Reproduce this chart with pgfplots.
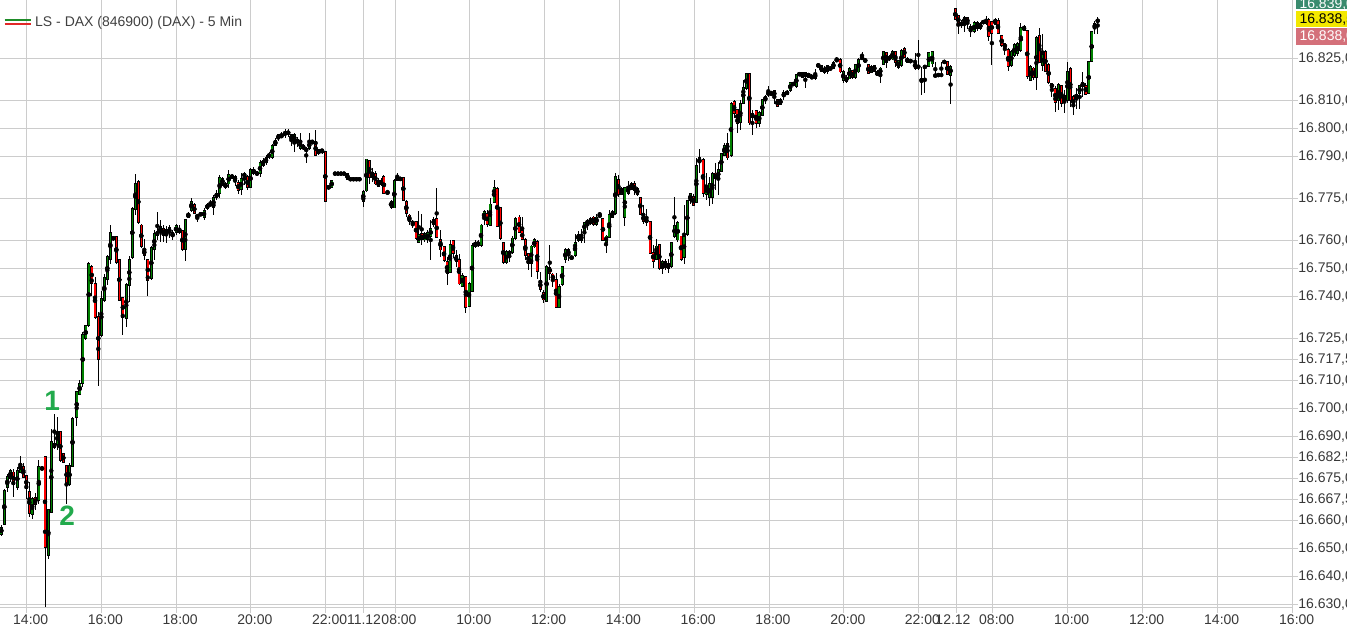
\documentclass[border=0pt]{standalone}
\usepackage{pgfplots}
\pgfplotsset{compat=1.18}
\usepackage{pgfplotstable}
\usepackage{fontspec}
\setmainfont{Liberation Sans}
\definecolor{cgreen}{RGB}{0,128,0}
\definecolor{cred}{RGB}{255,0,0}
\definecolor{cdoji}{RGB}{170,20,20}
\definecolor{gridc}{RGB}{204,204,204}
\definecolor{boxg}{RGB}{58,139,110}
\definecolor{boxy}{RGB}{243,232,0}
\definecolor{boxr}{RGB}{212,112,122}
\definecolor{annot}{RGB}{34,170,76}
\definecolor{lgreen}{RGB}{30,140,40}
\definecolor{lred}{RGB}{225,40,40}
\pgfplotstableread{
x o h l c
1.3 16655.3 16658.3 16654.5 16657.5
4.3 16658.9 16671.4 16658.7 16670.8
7.3 16672.0 16676.5 16670.2 16675.5
10.3 16675.3 16678.5 16673.8 16677.9
13.3 16677.3 16678.2 16668.4 16673.2
17.3 16672.0 16679.1 16670.8 16677.9
20.3 16677.3 16682.9 16676.8 16680.3
23.3 16679.1 16680.4 16675.1 16675.5
26.3 16675.8 16676.2 16667.8 16671.4
29.3 16670.2 16673.8 16661.3 16662.7
32.2 16662.5 16668.4 16660.7 16667.8
35.2 16668.2 16669.7 16663.7 16666.0
38.8 16667.2 16681.5 16666.0 16679.1
42.0 16678.9 16679.4 16678.0 16678.2
45.0 16682.7 16682.9 16629.1 16650.5
48.3 16647.6 16664.0 16646.4 16663.7
51.3 16663.0 16692.5 16663.0 16688.0
54.3 16687.5 16697.9 16685.7 16686.0
57.3 16687.2 16697.0 16685.1 16691.6
60.3 16691.6 16692.2 16680.9 16681.5
63.3 16683.9 16684.0 16680.8 16680.9
66.5 16679.7 16679.7 16666.0 16673.2
69.5 16673.2 16680.4 16672.2 16679.7
72.5 16679.4 16697.0 16679.1 16696.4
76.7 16697.0 16706.5 16694.0 16705.9
79.7 16705.3 16710.1 16704.7 16708.9
82.7 16708.9 16727.3 16707.7 16726.2
85.7 16725.0 16729.7 16724.4 16729.4
88.7 16729.7 16752.3 16729.1 16751.5
91.7 16750.5 16751.2 16740.1 16744.8
95.0 16744.4 16747.2 16732.1 16732.5
98.3 16732.7 16734.5 16707.9 16717.5
101.3 16726.2 16742.2 16725.5 16739.3
104.3 16738.7 16748.2 16738.0 16746.4
107.3 16746.0 16754.7 16744.0 16754.1
110.3 16753.5 16765.4 16751.5 16762.7
113.3 16761.0 16761.5 16760.1 16760.5
116.3 16761.3 16761.5 16751.5 16752.3
119.3 16753.2 16753.4 16738.7 16738.9
122.8 16739.3 16739.7 16726.2 16732.7
126.3 16732.1 16744.7 16729.1 16744.0
129.3 16744.0 16754.7 16738.0 16753.2
132.3 16754.1 16772.0 16753.5 16771.4
135.3 16771.1 16783.7 16769.0 16780.3
138.3 16780.9 16781.8 16766.0 16766.6
141.3 16765.4 16766.0 16757.5 16757.9
144.3 16756.8 16760.4 16752.9 16754.7
147.8 16753.2 16753.5 16740.1 16745.8
151.3 16746.4 16757.9 16746.0 16757.5
154.3 16756.8 16763.7 16752.9 16762.5
157.3 16761.9 16770.2 16760.1 16763.0
160.3 16763.0 16767.2 16759.5 16764.8
163.3 16764.3 16765.4 16759.5 16761.9
166.3 16763.7 16765.1 16759.1 16762.5
169.3 16762.7 16765.4 16760.7 16764.3
172.6 16761.5 16763.7 16760.1 16762.5
176.0 16763.0 16766.0 16761.9 16765.4
179.3 16764.3 16765.4 16762.2 16763.0
182.3 16763.4 16763.7 16756.3 16756.8
185.3 16756.8 16767.8 16752.7 16767.5
188.3 16768.4 16770.2 16768.2 16769.4
191.3 16770.8 16775.0 16770.1 16773.8
194.3 16772.6 16773.3 16769.4 16769.6
197.3 16769.0 16769.6 16766.6 16768.4
200.7 16769.6 16770.1 16768.7 16769.2
204.0 16768.4 16771.4 16767.2 16770.5
207.3 16771.4 16773.3 16770.8 16772.6
210.5 16772.9 16774.4 16772.2 16772.7
213.5 16772.0 16776.2 16769.0 16775.3
216.6 16775.3 16778.0 16774.4 16776.8
219.7 16776.8 16783.3 16775.3 16782.5
222.5 16782.1 16782.9 16779.4 16780.1
225.5 16779.0 16780.8 16778.3 16780.1
228.7 16780.3 16785.1 16778.9 16783.5
232.0 16782.9 16783.7 16782.2 16782.7
235.0 16782.7 16783.3 16779.4 16781.5
238.2 16780.5 16781.5 16776.8 16777.9
241.2 16778.2 16784.1 16776.2 16781.8
244.3 16782.7 16784.5 16779.7 16783.9
247.5 16782.7 16783.3 16778.0 16778.9
250.5 16778.9 16785.8 16778.7 16785.3
253.8 16783.9 16786.3 16783.3 16785.3
257.0 16784.0 16784.7 16783.3 16783.8
260.0 16783.9 16788.7 16782.7 16787.7
263.0 16786.9 16789.4 16786.2 16788.3
266.0 16787.7 16790.4 16786.9 16789.3
269.0 16790.4 16791.6 16789.3 16790.1
272.2 16789.8 16794.6 16789.3 16793.7
275.3 16794.0 16796.4 16793.7 16795.5
278.3 16796.4 16798.2 16795.5 16797.6
281.5 16797.0 16798.7 16796.4 16797.6
285.0 16797.8 16799.6 16796.4 16798.8
288.2 16798.8 16800.0 16797.0 16798.2
291.3 16796.0 16798.2 16793.7 16797.6
294.3 16795.8 16798.2 16791.6 16797.6
297.3 16796.0 16797.0 16793.4 16795.2
300.3 16792.8 16798.4 16792.2 16795.5
303.3 16793.7 16794.4 16792.2 16792.8
306.2 16792.5 16793.2 16787.5 16792.3
309.3 16792.8 16798.4 16792.2 16795.2
312.3 16795.2 16795.8 16794.6 16795.0
315.6 16795.2 16799.6 16790.1 16790.4
318.7 16792.2 16792.8 16790.4 16791.3
322.0 16792.5 16792.9 16791.0 16791.6
325.3 16791.6 16792.0 16773.8 16774.1
328.6 16779.0 16779.4 16778.4 16778.8
331.7 16778.9 16781.5 16778.7 16781.3
335.0 16783.9 16783.9 16783.9 16783.9
338.0 16783.9 16783.9 16783.9 16783.9
341.0 16783.9 16783.9 16783.9 16783.9
344.0 16783.9 16783.9 16783.9 16783.9
347.4 16781.8 16783.9 16781.8 16783.9
350.5 16781.8 16781.8 16781.8 16781.8
353.5 16781.8 16781.8 16781.8 16781.8
356.5 16781.8 16781.8 16781.8 16781.8
359.5 16781.8 16781.8 16781.8 16781.8
363.3 16774.1 16778.0 16771.8 16777.3
366.3 16777.7 16789.2 16777.3 16788.9
369.3 16788.4 16788.9 16780.3 16782.7
372.3 16782.7 16786.0 16780.9 16784.1
375.3 16783.9 16784.8 16779.7 16780.3
378.3 16779.4 16782.5 16779.1 16781.3
381.0 16781.5 16782.2 16779.4 16780.1
383.9 16782.7 16783.3 16776.4 16777.0
387.5 16777.3 16778.0 16776.4 16776.8
391.0 16772.0 16774.4 16771.4 16773.8
394.3 16771.8 16781.8 16771.5 16781.3
397.3 16781.5 16784.1 16781.3 16782.7
400.3 16781.5 16782.9 16781.2 16782.5
403.3 16782.5 16782.9 16774.2 16774.4
406.3 16773.8 16774.4 16768.4 16769.6
409.3 16769.0 16769.6 16765.4 16767.0
412.8 16766.6 16767.2 16764.3 16766.0
416.0 16766.6 16767.0 16760.3 16760.7
418.8 16759.5 16770.5 16758.9 16761.9
421.7 16762.2 16769.6 16758.3 16760.3
424.7 16760.3 16763.0 16759.5 16762.5
427.7 16760.3 16763.7 16759.0 16762.7
430.7 16761.5 16767.2 16753.2 16764.3
433.7 16765.8 16768.4 16764.8 16767.5
436.7 16767.8 16778.5 16760.7 16761.0
440.5 16760.3 16763.7 16754.1 16756.8
444.0 16757.7 16757.9 16752.3 16752.9
447.0 16752.3 16754.1 16744.0 16748.4
450.0 16748.8 16760.1 16748.2 16758.3
453.0 16759.8 16760.3 16753.9 16755.3
456.0 16754.4 16756.5 16750.5 16752.7
459.0 16753.2 16755.3 16744.0 16744.6
462.2 16743.7 16748.4 16743.2 16747.2
465.8 16747.0 16747.2 16734.1 16736.0
469.0 16736.5 16745.2 16736.3 16744.6
472.0 16742.0 16758.9 16741.6 16758.3
475.0 16757.9 16760.1 16757.2 16759.1
478.0 16758.3 16760.1 16757.7 16759.0
481.0 16758.3 16765.8 16757.7 16765.4
484.0 16767.8 16770.8 16765.4 16770.2
487.0 16769.4 16770.8 16764.8 16765.8
490.0 16765.4 16775.0 16765.1 16772.9
494.0 16773.8 16781.8 16773.4 16778.9
497.2 16778.5 16778.9 16764.8 16765.1
500.3 16771.8 16772.2 16760.1 16760.7
503.3 16759.1 16759.5 16751.5 16752.3
506.3 16752.3 16756.5 16751.5 16755.9
509.3 16755.3 16756.5 16752.2 16755.9
512.3 16755.9 16761.5 16755.3 16760.7
515.3 16760.7 16768.4 16760.3 16767.8
519.0 16768.2 16769.0 16762.7 16763.0
522.2 16763.4 16768.4 16760.1 16760.3
525.3 16760.3 16761.0 16752.9 16754.7
528.3 16755.1 16755.3 16749.4 16752.0
531.2 16751.8 16758.3 16747.0 16757.9
534.2 16757.7 16760.7 16757.2 16760.1
537.2 16759.5 16760.1 16746.4 16748.8
540.3 16745.5 16748.8 16741.6 16742.5
543.4 16741.3 16742.2 16737.5 16738.9
546.6 16738.4 16751.2 16738.0 16750.5
549.8 16750.3 16758.3 16745.8 16748.4
552.9 16747.9 16748.4 16743.4 16745.8
556.0 16745.8 16748.4 16735.7 16736.3
559.0 16736.3 16744.4 16736.1 16743.4
562.1 16744.4 16750.8 16743.7 16750.5
565.3 16753.2 16757.5 16752.0 16756.5
568.4 16756.8 16757.5 16752.9 16754.7
571.6 16753.9 16754.7 16753.2 16754.0
575.0 16754.7 16762.2 16753.9 16759.1
578.2 16760.1 16763.4 16759.5 16762.2
581.3 16760.1 16764.3 16759.1 16761.9
584.4 16763.4 16766.6 16759.1 16766.3
587.4 16765.8 16767.8 16763.7 16767.2
590.4 16766.0 16768.3 16765.4 16767.7
593.4 16768.2 16768.7 16765.1 16765.8
596.5 16765.8 16769.6 16765.1 16768.2
599.7 16769.0 16770.2 16768.4 16768.7
602.9 16767.8 16768.2 16759.8 16760.3
606.0 16759.5 16761.9 16755.5 16761.5
609.2 16761.0 16770.8 16760.7 16769.0
612.3 16768.4 16770.8 16768.0 16770.2
615.3 16769.6 16783.9 16769.0 16782.7
618.3 16781.8 16783.3 16775.6 16776.5
621.4 16776.5 16779.1 16776.2 16778.5
624.8 16768.2 16779.1 16765.1 16778.9
628.0 16776.8 16781.3 16776.2 16778.9
631.2 16780.1 16780.8 16778.0 16778.5
634.3 16780.1 16781.3 16776.2 16777.9
637.3 16778.5 16779.1 16775.8 16776.5
640.3 16775.3 16775.6 16769.0 16769.6
643.3 16769.0 16772.6 16765.8 16767.0
646.5 16767.5 16771.1 16765.1 16766.6
650.0 16766.6 16767.0 16755.1 16755.5
653.2 16755.5 16758.3 16750.0 16752.7
656.3 16753.2 16760.3 16752.9 16757.9
659.3 16758.3 16758.6 16749.4 16750.0
662.3 16750.0 16753.2 16748.2 16752.3
665.3 16750.3 16753.5 16749.4 16752.3
668.3 16751.8 16753.5 16748.2 16750.0
671.3 16750.8 16759.5 16750.3 16759.1
674.4 16761.5 16775.5 16761.0 16765.4
677.8 16760.3 16767.0 16759.5 16766.3
681.0 16761.5 16761.8 16752.9 16753.5
684.1 16754.1 16772.6 16751.5 16761.3
687.3 16762.2 16774.6 16761.5 16774.1
690.3 16774.4 16776.8 16773.2 16776.5
693.3 16775.5 16776.8 16772.2 16772.6
696.3 16773.8 16789.3 16773.2 16786.5
699.4 16787.7 16792.5 16783.9 16789.3
703.0 16788.9 16789.3 16775.6 16776.8
706.2 16776.5 16783.9 16774.6 16779.4
709.3 16775.6 16782.7 16772.3 16780.3
712.3 16775.6 16784.5 16773.2 16783.9
715.3 16783.9 16787.7 16778.0 16782.1
718.3 16782.1 16788.1 16776.2 16785.1
721.3 16784.8 16791.3 16784.5 16791.0
724.3 16790.4 16794.8 16790.1 16793.7
727.4 16794.6 16798.4 16788.9 16789.6
731.0 16790.4 16809.5 16789.8 16808.7
734.1 16809.5 16810.1 16803.5 16805.5
737.2 16806.5 16807.1 16798.4 16802.0
740.3 16802.3 16810.1 16799.4 16808.7
743.3 16809.1 16817.2 16808.9 16814.6
746.3 16814.3 16819.8 16813.7 16819.6
749.3 16819.6 16819.8 16801.2 16802.0
752.4 16803.9 16806.5 16797.6 16805.3
756.0 16806.3 16806.8 16800.3 16802.0
759.2 16801.8 16806.3 16800.3 16805.5
762.3 16804.7 16810.7 16804.4 16810.3
765.3 16810.1 16811.9 16808.7 16811.3
768.3 16812.6 16815.1 16811.3 16812.4
771.3 16812.5 16813.4 16811.9 16812.3
774.3 16813.4 16813.7 16808.9 16811.5
777.3 16810.3 16810.7 16807.7 16807.9
780.4 16808.7 16810.8 16808.3 16810.3
783.8 16811.3 16813.7 16810.1 16812.7
787.0 16812.2 16813.7 16811.9 16813.0
790.2 16813.7 16816.6 16813.0 16816.3
793.3 16816.3 16816.6 16815.1 16815.4
796.3 16815.1 16819.6 16814.6 16819.0
799.3 16819.0 16820.2 16818.7 16819.8
802.3 16818.2 16820.2 16817.9 16819.8
805.3 16818.7 16820.2 16814.6 16819.8
808.5 16819.6 16819.8 16817.9 16818.4
811.9 16817.8 16819.4 16817.5 16818.7
815.2 16817.8 16821.4 16817.5 16819.6
818.3 16822.6 16822.9 16822.2 16822.4
821.3 16820.5 16822.6 16820.2 16822.2
824.3 16821.4 16822.2 16819.6 16820.2
827.3 16820.5 16822.9 16819.6 16822.6
830.3 16821.4 16821.9 16821.2 16821.3
833.4 16821.4 16824.0 16821.2 16823.4
836.7 16824.1 16825.5 16823.8 16824.6
840.1 16824.6 16825.0 16819.8 16820.2
843.3 16817.2 16821.0 16816.3 16820.2
846.3 16818.2 16819.0 16816.3 16817.0
849.3 16817.8 16821.8 16817.5 16821.4
852.3 16820.5 16821.0 16817.9 16818.4
855.3 16818.2 16823.2 16817.8 16822.6
858.5 16820.2 16825.0 16819.8 16824.6
862.0 16825.3 16827.3 16824.6 16825.2
865.2 16824.6 16825.0 16823.4 16823.8
868.3 16822.6 16822.9 16819.6 16819.8
871.3 16820.2 16822.6 16819.8 16822.2
874.3 16822.6 16822.9 16820.2 16820.5
877.3 16820.2 16820.8 16818.7 16819.0
880.3 16819.4 16821.8 16816.3 16821.4
883.3 16822.9 16827.9 16822.6 16827.3
886.3 16827.0 16827.3 16821.4 16823.8
889.3 16824.6 16826.2 16824.1 16825.5
892.3 16825.0 16828.2 16824.4 16827.3
895.3 16827.3 16827.7 16822.0 16823.8
898.3 16821.8 16824.4 16821.4 16824.1
901.3 16822.6 16828.2 16822.0 16827.7
904.3 16828.5 16828.9 16825.0 16825.5
907.3 16825.0 16825.5 16823.4 16823.8
910.5 16824.1 16824.4 16823.7 16824.0
915.0 16823.4 16826.8 16820.8 16821.4
918.3 16822.2 16831.5 16821.0 16822.1
921.6 16817.3 16822.0 16811.9 16817.1
924.9 16822.1 16822.2 16812.5 16821.9
928.9 16822.2 16827.3 16822.0 16827.0
932.1 16823.2 16827.5 16822.0 16827.3
935.3 16818.9 16823.7 16818.8 16819.0
938.3 16819.0 16819.0 16819.0 16819.0
941.3 16819.0 16823.7 16819.0 16819.0
944.3 16823.8 16823.8 16823.8 16823.8
947.3 16823.8 16824.0 16819.0 16819.3
950.6 16819.0 16822.6 16808.9 16822.2
955.3 16842.5 16842.8 16838.7 16838.9
958.3 16840.1 16840.4 16833.9 16837.5
961.3 16837.7 16838.7 16835.7 16836.8
964.3 16837.7 16840.1 16834.5 16839.6
967.4 16839.3 16839.8 16835.7 16837.5
970.7 16836.3 16837.5 16832.7 16834.8
974.0 16834.5 16838.4 16833.9 16837.5
977.3 16835.7 16838.4 16834.8 16837.7
980.3 16835.7 16838.0 16835.3 16837.5
983.3 16838.0 16838.3 16837.8 16837.9
986.1 16837.7 16840.1 16836.9 16838.7
988.9 16838.7 16839.3 16831.3 16833.0
991.9 16838.0 16838.4 16822.6 16833.9
995.0 16837.5 16839.3 16837.2 16838.9
998.0 16838.4 16839.3 16833.7 16833.9
1001.7 16833.0 16833.3 16829.1 16829.7
1004.9 16830.1 16830.6 16826.2 16828.9
1008.2 16827.9 16828.5 16820.5 16822.0
1011.3 16822.6 16827.9 16822.0 16827.3
1014.3 16826.2 16830.3 16825.5 16829.7
1017.4 16826.8 16830.9 16825.8 16830.3
1020.8 16827.9 16837.7 16827.3 16836.0
1024.0 16836.3 16836.9 16834.8 16835.1
1027.2 16834.8 16835.3 16817.8 16818.7
1030.3 16817.2 16822.6 16817.0 16822.0
1033.3 16821.4 16822.0 16817.5 16818.2
1036.3 16818.2 16833.0 16813.7 16832.5
1039.3 16833.0 16835.7 16823.4 16823.8
1042.3 16822.6 16833.9 16820.5 16826.2
1045.4 16827.3 16827.9 16820.2 16820.5
1048.6 16822.9 16823.4 16816.0 16816.6
1051.9 16815.8 16816.3 16811.3 16814.6
1055.2 16814.3 16815.1 16805.9 16809.5
1058.3 16810.1 16816.3 16806.5 16815.4
1061.3 16815.1 16815.4 16807.5 16809.1
1064.3 16809.8 16813.7 16805.6 16811.5
1067.3 16810.1 16823.8 16809.1 16820.2
1070.3 16821.4 16822.0 16807.5 16810.1
1073.3 16811.3 16811.9 16804.7 16807.9
1076.4 16811.1 16814.3 16807.1 16812.2
1079.6 16812.5 16815.4 16807.1 16815.1
1082.7 16815.1 16820.2 16811.3 16816.3
1085.7 16815.4 16816.3 16811.9 16812.2
1088.7 16812.7 16824.1 16812.2 16823.8
1091.7 16824.1 16834.8 16823.8 16834.5
1094.7 16835.7 16838.4 16833.7 16837.5
1097.7 16838.3 16839.8 16833.7 16838.5
}\candles
\begin{document}
\begin{tikzpicture}[x=1pt,y=1pt]
\useasboundingbox (0,0) rectangle (1347,634);
\begin{axis}[
  at={(0pt,26.3pt)}, anchor=south west,
  scale only axis, width=1292.7pt, height=607.7pt,
  xmin=0, xmax=1292.7, ymin=16628.8, ymax=16845.8,
  axis x line*=bottom, axis y line*=right,
  axis line style={-, draw=gridc, line width=1pt},
  every outer x axis line/.append style={-},
  every outer y axis line/.append style={-},
  tick style={draw=gridc, line width=1pt},
  tick align=outside, major tick length=5pt,
  grid=major, major grid style={draw=gridc, line width=1pt},
  xtick={26.7,101.4,176.2,250.9,325.6,363.3,395,469.8,544.6,619.4,694.2,769,843.8,918.4,956,992.7,1067.7,1142.7,1217.7,1292.7},
  xticklabels={14:00,16:00,18:00,20:00,22:00,\hspace*{-6.6pt}11.12,08:00,10:00,12:00,14:00,16:00,18:00,20:00,22:00,\hspace*{-14pt}12.12,08:00,10:00,12:00,14:00,16:00},
  ytick={16630,16640,16650,16660,16667.5,16675,16682.5,16690,16700,16710,16717.5,16725,16740,16750,16760,16775,16790,16800,16810,16825},
  scaled y ticks=false,
  ticklabel style={font=\fontsize{14}{16}\selectfont, text=black!78},
  xticklabel style={xshift=4pt, inner sep=0pt, yshift=-1.5pt},
  yticklabel style={inner sep=0.5pt, /pgf/number format/.cd, fixed, fixed zerofill, precision=1, use comma, 1000 sep={.}, assume math mode=true},
]
% wicks
\addplot[only marks, mark=none, forget plot,
  error bars/.cd, y dir=both, y explicit, error mark=none,
  error bar style={line width=1pt, draw=black}]
  table[x=x, y expr={(\thisrow{h}+\thisrow{l})/2}, y error expr={(\thisrow{h}-\thisrow{l})/2}] {\candles};
% body outline (extended by about 0.8px at each end)
\addplot[only marks, mark=none, forget plot,
  restrict expr to domain={abs(\thisrow{c}-\thisrow{o})}{0.05:1000},
  error bars/.cd, y dir=both, y explicit, error mark=none,
  error bar style={line width=3pt, draw=black}]
  table[x=x, y expr={(\thisrow{o}+\thisrow{c})/2}, y error expr={abs(\thisrow{c}-\thisrow{o})/2+0.28}] {\candles};
% flat doji dashes
\addplot[only marks, mark=none, forget plot,
  restrict expr to domain={abs(\thisrow{c}-\thisrow{o})}{0:0.049},
  error bars/.cd, y dir=both, y explicit, error mark=none,
  error bar style={line width=3pt, draw=cdoji}]
  table[x=x, y expr={(\thisrow{o}+\thisrow{c})/2}, y error expr={0.25}] {\candles};
% green fill
\addplot[only marks, mark=none, forget plot,
  restrict expr to domain={\thisrow{c}-\thisrow{o}}{0.05:1000},
  error bars/.cd, y dir=both, y explicit, error mark=none,
  error bar style={line width=1.6pt, draw=cgreen}]
  table[x=x, y expr={(\thisrow{o}+\thisrow{c})/2}, y error expr={max(abs(\thisrow{c}-\thisrow{o})/2-0.05,0)}] {\candles};
% red fill
\addplot[only marks, mark=none, forget plot,
  restrict expr to domain={\thisrow{c}-\thisrow{o}}{-1000:-0.05},
  error bars/.cd, y dir=both, y explicit, error mark=none,
  error bar style={line width=1.6pt, draw=cred}]
  table[x=x, y expr={(\thisrow{o}+\thisrow{c})/2}, y error expr={max(abs(\thisrow{c}-\thisrow{o})/2-0.05,0)}] {\candles};
\node[font=\fontsize{28}{28}\selectfont\bfseries, text=annot, inner sep=0] at (axis cs:52.2,16702.5) {1};
\node[font=\fontsize{28}{28}\selectfont\bfseries, text=annot, inner sep=0] at (axis cs:67.2,16661.6) {2};
\end{axis}
% legend
\draw[draw=lgreen, line width=1.8pt] (4.7,614) -- (30.7,614);
\draw[draw=lred, line width=1.8pt] (4.7,610.3) -- (30.7,610.3);
\node[anchor=base west, inner sep=0, font=\fontsize{14}{16}\selectfont, text=black!75] at (35,607.3) {LS - DAX (846900) (DAX) - 5 Min};
% price boxes
\fill[boxg] (1296,624.7) rectangle (1350,640);
\node[anchor=base west, inner sep=0, font=\fontsize{14}{16}\selectfont, text=white] at (1299.3,625.7) {16.839,0};
\fill[boxy] (1296,606.7) rectangle (1350,623.3);
\node[anchor=base west, inner sep=0, font=\fontsize{14}{16}\selectfont, text=black] at (1299.3,610) {16.838,5};
\fill[boxr] (1296,589) rectangle (1350,605.7);
\node[anchor=base west, inner sep=0, font=\fontsize{14}{16}\selectfont, text=white] at (1299.3,593.3) {16.838,0};
\end{tikzpicture}
\end{document}
